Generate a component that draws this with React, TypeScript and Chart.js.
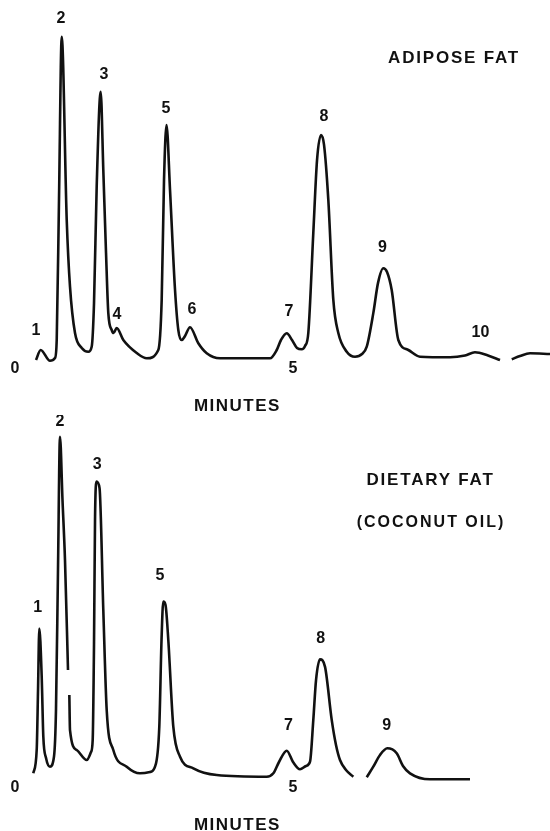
import React, { useEffect, useRef } from "react";
import { Chart, registerables } from "chart.js";

Chart.register(...registerables);

// ---- Data (time in minutes, detector response in relative units) ----
const topTimes = [0.378,0.462,0.629,0.719,0.750,0.791,0.840,0.930,0.989,1.079,1.200,1.318,1.379,1.421,1.469,1.541,1.588,1.637,1.678,1.739,1.772,1.829,1.948,2.189,2.369,2.577,2.638,2.680,2.725,2.788,2.878,2.937,2.998,3.058,3.147,3.297,3.448,3.687,4.586,4.707,4.784,4.887,4.982,5.072,5.157,5.216,5.275,5.365,5.432,5.504,5.558,5.635,5.725,5.815,5.966,6.115,6.241,6.326,6.444,6.529,6.624,6.691,6.775,6.894,7.074,7.284,7.824,8.094,8.273,8.507,8.723,8.820,8.934,9.083,9.263,9.622];
const topSignal = [-0.88,2.06,-1.09,-0.29,5.0,46.2,94.2,40.3,20.7,7.06,2.65,1.56,3.03,15.9,50.1,78.0,55.0,30.6,12.9,7.94,7.06,8.53,5.0,1.18,-0.38,2.06,16.8,52.1,68.2,49.1,19.7,7.94,5.0,6.18,8.74,4.03,1.09,-0.38,-0.38,2.06,5.0,6.97,5.0,2.65,2.26,3.24,7.06,36.5,57.9,65.3,62.4,46.2,16.8,7.06,1.56,0.09,0.88,3.03,12.9,21.8,26.1,25.0,19.7,5.0,2.06,0.09,-0.09,0.44,1.38,0.44,-0.88,null,-0.68,0.29,1.09,0.88];

const bottomTimes = [0.329,0.390,0.414,0.437,0.480,0.509,0.558,0.629,0.701,0.737,0.773,0.809,0.854,0.899,0.953,0.965,0.977,0.989,1.110,1.290,1.367,1.397,1.421,1.439,1.466,1.520,1.588,1.649,1.768,2.009,2.248,2.428,2.518,2.595,2.635,2.667,2.707,2.757,2.847,2.968,3.207,3.628,4.527,4.646,4.748,4.887,5.000,5.126,5.234,5.306,5.365,5.414,5.486,5.576,5.696,5.773,5.845,5.953,6.085,6.200,6.326,6.444,6.565,6.696,6.865,6.978,7.104,7.464,8.183];
const bottomSignal = [0.79,7.65,25.3,43.4,29.2,11.6,5.29,2.74,5.68,19.4,60.6,99.8,81.2,63.5,31.2,null,23.8,13.5,7.65,4.71,7.06,10.6,39.1,75.3,86.6,84.7,48.8,19.4,7.65,2.74,0.79,1.18,2.74,14.5,40.0,51.3,50.3,40.0,14.5,5.68,2.26,0.29,-0.21,0.79,4.12,7.44,4.12,1.97,2.94,4.21,16.5,28.2,34.3,32.1,16.5,9.12,4.71,1.76,-0.21,null,-0.38,2.74,6.18,8.15,6.68,2.94,0.79,-0.97,-0.97];

const topPeakNames = ["1","2","3","4","5","6","7","8","9","10"];
const topPeakLabelX = [0.378,0.827,1.601,1.835,2.716,3.183,4.928,5.558,6.610,8.372];
const topPeakLabelY = [7.65,99.4,83.2,12.6,73.2,13.8,13.4,70.6,32.2,7.06];

const bottomPeakNames = ["1","2","3","5","7","8","9"];
const bottomPeakLabelX = [0.408,0.809,1.480,2.608,4.916,5.498,6.685];
const bottomPeakLabelY = [49.4,104.2,91.5,58.8,14.7,40.5,14.7];

const timeTicks = [0, 5];
const axisTitle = "MINUTES";
const axisTitleTime = 4;

const topTitle = ["ADIPOSE FAT"];
const topTitleX = [7.896];
const topTitleY = [87.9];
const bottomTitle = ["DIETARY FAT", "(COCONUT OIL)"];
const bottomTitleX = [7.473, 7.482];
const bottomTitleY = [87.1, 74.4];

const INK = "#111111";
const FONT = '"Liberation Sans", Arial, sans-serif';

type PanelProps = {
  times: number[];
  signal: (number | null)[];
  peakNames: string[];
  peakX: number[];
  peakY: number[];
  titles: string[];
  titleX: number[];
  titleY: number[];
  yMin: number;
  yMax: number;
  height: number;
};

function Panel(p: PanelProps) {
  const ref = useRef<HTMLCanvasElement | null>(null);
  useEffect(() => {
    if (!ref.current) return;
    const textPlugin = {
      id: "chromLabels",
      afterDatasetsDraw(chart: any) {
        const ctx = chart.ctx;
        const xs = chart.scales.x;
        const ys = chart.scales.y;
        ctx.save();
        ctx.fillStyle = INK;
        ctx.textAlign = "center";
        ctx.textBaseline = "middle";
        // peak numbers
        ctx.font = `bold 16px ${FONT}`;
        (ctx as any).letterSpacing = "0px";
        p.peakNames.forEach((n, i) => {
          ctx.fillText(n, xs.getPixelForValue(p.peakX[i]), ys.getPixelForValue(p.peakY[i]));
        });
        // time ticks
        const base = ys.getPixelForValue(0);
        timeTicks.forEach((t) => {
          ctx.fillText(String(t), xs.getPixelForValue(t), base + 12);
        });
        // axis title
        ctx.font = `bold 17px ${FONT}`;
        (ctx as any).letterSpacing = "1.5px";
        ctx.fillText(axisTitle, xs.getPixelForValue(axisTitleTime), base + 49);
        // panel titles
        p.titles.forEach((t, i) => {
          ctx.font = i === 0 ? `bold 17px ${FONT}` : `bold 16px ${FONT}`;
          (ctx as any).letterSpacing = i === 0 ? "1.8px" : "2px";
          ctx.fillText(t, xs.getPixelForValue(p.titleX[i]), ys.getPixelForValue(p.titleY[i]));
        });
        ctx.restore();
      },
    };
    const chart = new Chart(ref.current, {
      type: "line",
      data: {
        datasets: [
          {
            data: p.times.map((t, i) => ({ x: t, y: p.signal[i] })) as any,
            borderColor: INK,
            borderWidth: 2.6,
            pointRadius: 0,
            fill: false,
            spanGaps: false,
            cubicInterpolationMode: "monotone",
            clip: false as any,
          },
        ],
      },
      options: {
        animation: false,
        responsive: false,
        maintainAspectRatio: false,
        devicePixelRatio: 1,
        layout: { padding: 0 },
        plugins: { legend: { display: false }, tooltip: { enabled: false } },
        scales: {
          x: { type: "linear", min: -0.27, max: 9.622, display: false },
          y: { type: "linear", min: p.yMin, max: p.yMax, display: false },
        },
      },
      plugins: [textPlugin],
    });
    return () => chart.destroy();
  }, []);
  return (
    <canvas
      ref={ref}
      width={550}
      height={p.height}
      style={{ display: "block", width: 550, height: p.height }}
    />
  );
}

export default function App() {
  return (
    <div
      style={{
        position: "absolute",
        left: 0,
        top: 0,
        width: 550,
        height: 831,
        background: "#ffffff",
        overflow: "hidden",
      }}
    >
      <Panel
        times={topTimes}
        signal={topSignal}
        peakNames={topPeakNames}
        peakX={topPeakLabelX}
        peakY={topPeakLabelY}
        titles={topTitle}
        titleX={topTitleX}
        titleY={topTitleY}
        yMin={-17.06}
        yMax={105.0}
        height={415}
      />
      <Panel
        times={bottomTimes}
        signal={bottomSignal}
        peakNames={bottomPeakNames}
        peakX={bottomPeakLabelX}
        peakY={bottomPeakLabelY}
        titles={bottomTitle}
        titleX={bottomTitleX}
        titleY={bottomTitleY}
        yMin={-16.18}
        yMax={106.18}
        height={416}
      />
    </div>
  );
}
